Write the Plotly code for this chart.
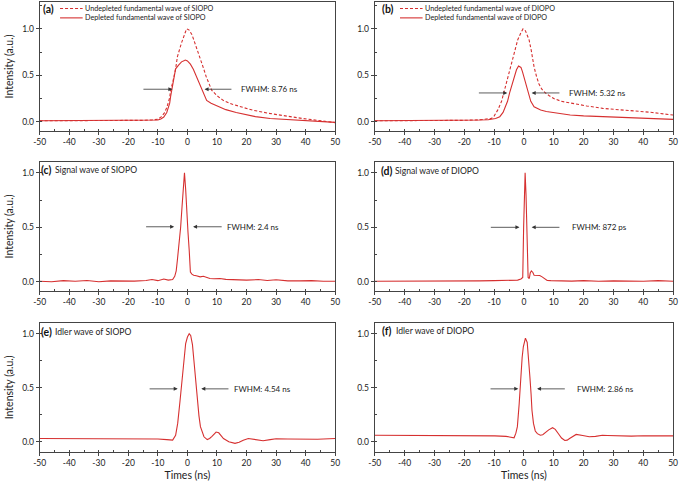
import plotly.graph_objects as go
from plotly.subplots import make_subplots

# ---------------- data ----------------
a_und_t = [-50,-40,-30,-20,-15,-12,-10,-9,-7.9,-7,-6,-5.7,-5,-4,-3.4,-2,-1,-0.3,0.5,1.5,2.5,3.5,4.3,5.5,6.3,8.2,10,12.1,15,18.7,22,27.6,33,38.7,44,50]
a_und_y = [0.01,0.01,0.01,0.012,0.015,0.02,0.025,0.05,0.09,0.15,0.26,0.34,0.42,0.57,0.7,0.85,0.95,1.0,0.99,0.94,0.85,0.76,0.70,0.57,0.49,0.34,0.28,0.23,0.19,0.155,0.125,0.09,0.062,0.036,0.015,-0.01]

a_dep_t = [-50,-40,-30,-20,-15,-12,-10,-9,-8,-7,-6,-5.7,-5,-4.5,-4,-3,-2,-1,-0.7,0,1,2,3,4,5,6.5,8,10,13,16.5,20,23,28,33,38,44,50]
a_dep_y = [0.01,0.01,0.01,0.012,0.012,0.014,0.018,0.03,0.05,0.1,0.2,0.27,0.4,0.52,0.57,0.61,0.645,0.66,0.665,0.655,0.62,0.565,0.49,0.4,0.33,0.23,0.2,0.17,0.13,0.1,0.075,0.055,0.035,0.025,0.015,0.007,-0.007]

b_und_t = [-50,-40,-30,-20,-15,-12,-10.9,-10,-8.7,-7.5,-6.5,-5.5,-4.3,-3,-2.1,-1,-0.3,0.5,1.75,2.5,3.4,4.2,5,6,7.2,8.5,10,12.5,15.5,21,26.4,32,37.4,43,50]
b_und_y = [0.01,0.01,0.012,0.015,0.02,0.028,0.035,0.06,0.13,0.22,0.34,0.47,0.63,0.78,0.88,0.96,1.0,0.98,0.88,0.76,0.59,0.49,0.41,0.35,0.31,0.28,0.25,0.22,0.2,0.17,0.144,0.13,0.12,0.1,0.072]

b_dep_t = [-50,-40,-30,-20,-15,-12,-10.9,-9.5,-8.1,-7,-6.5,-5.5,-4.8,-4,-3.2,-2.5,-1.8,-1,-0.5,0.1,0.6,1.2,1.8,2.3,3.4,4.5,5.6,7.5,10,12.5,15.5,20,26.4,32,37.4,43,50]
b_dep_y = [0.01,0.01,0.012,0.015,0.018,0.022,0.025,0.035,0.054,0.1,0.14,0.22,0.31,0.4,0.49,0.56,0.6,0.585,0.54,0.47,0.41,0.34,0.27,0.22,0.16,0.14,0.126,0.11,0.097,0.085,0.072,0.063,0.054,0.045,0.036,0.03,0.025]

c_t = [-50,-46,-42,-38,-34,-30,-26,-22,-18,-14,-12,-10,-8,-6.5,-5,-4.3,-3.8,-3.4,-2.8,-2.3,-1.8,-1.4,-1,-0.6,-0.3,0.2,0.6,1.0,1.5,2.1,3,4.3,5.4,6.5,7.6,9,11,13,16.5,20,24,27,30,34,38,42,46,50]
c_y = [0.005,0.0,0.01,0.005,0.012,0.0,0.008,0.005,0.006,0.012,0.02,0.01,0.025,0.015,0.02,0.05,0.1,0.2,0.35,0.5,0.7,0.87,1.0,0.85,0.66,0.45,0.29,0.09,0.07,0.06,0.055,0.045,0.05,0.04,0.03,0.028,0.03,0.022,0.02,0.015,0.02,0.012,0.018,0.008,0.008,0.01,0.004,0.005]

d_t = [-50,-45,-40,-35,-30,-25,-20,-15,-10,-6,-4,-2.1,-1,-0.4,-0.1,0.2,0.4,0.7,1.0,1.4,1.8,2.1,2.5,3.0,3.4,4.5,5.3,6.1,7.0,7.8,9,12,16,20,25,30,35,40,45,50]
d_y = [0.005,0.005,0.003,0.006,0.004,0.006,0.005,0.008,0.01,0.012,0.015,0.015,0.025,0.04,0.5,0.9,1.0,0.8,0.5,0.04,0.03,0.08,0.1,0.085,0.06,0.062,0.058,0.045,0.03,0.012,0.01,0.008,0.006,0.01,0.005,0.008,0.006,0.004,0.01,0.005]

e_t = [-50,-45,-40,-35,-30,-25,-20,-15,-10,-7,-5,-4,-3.3,-2.5,-1.7,-1.1,-0.6,0,0.6,1.1,1.7,2.2,2.8,3.3,3.9,4.4,5,5.6,6.7,7.5,8.3,9.7,10.6,11.4,12.2,14,16.1,17.5,18.9,20.6,22,23.3,25.6,28,30,34,38.9,44,50]
e_y = [0.03,0.03,0.028,0.03,0.027,0.028,0.03,0.028,0.025,0.02,0.015,0.06,0.17,0.38,0.6,0.8,0.91,0.97,1.0,0.985,0.9,0.75,0.56,0.38,0.24,0.14,0.08,0.046,0.02,0.03,0.05,0.09,0.083,0.06,0.03,0.0,-0.015,-0.005,0.015,0.03,0.025,0.015,0.01,0.02,0.028,0.026,0.022,0.024,0.03]

f_t = [-50,-45,-40,-35,-30,-25,-20,-15,-9.8,-6,-3.3,-2.7,-2.2,-1.6,-1.1,-0.6,-0.2,0.5,1.1,1.5,2,2.4,2.7,3.2,3.8,4.5,5.5,6.3,7.1,8.3,9.6,10.5,11.5,12.6,13.7,14.5,15.3,16.5,17.5,19.7,21.9,24,26.3,28,31.7,36,40,45,50]
f_y = [0.06,0.06,0.058,0.06,0.058,0.056,0.058,0.058,0.055,0.05,0.037,0.08,0.14,0.35,0.6,0.78,0.88,0.96,0.92,0.8,0.6,0.44,0.29,0.17,0.1,0.075,0.06,0.065,0.083,0.11,0.13,0.115,0.077,0.035,0.012,0.015,0.03,0.055,0.068,0.058,0.046,0.05,0.06,0.058,0.055,0.052,0.056,0.054,0.055]

x_tickvals = [-50,-40,-30,-20,-10,0,10,20,30,40,50]
x_ticktext = ["-50","-40","-30","-20","-10","0","10","20","30","40","50"]
y_tickvals = [0.0,0.5,1.0]
y_ticktext = ["0.0","0.5","1.0"]

panel_labels = ["(a)","(b)","(c)","(d)","(e)","(f)"]
panel_titles = ["", "", "Signal wave of SIOPO", "Signal wave of DIOPO", "Idler wave of SIOPO", "Idler wave of DIOPO"]
legend_a = ["Undepleted fundamental wave of SIOPO", "Depleted fundamental wave of SIOPO"]
legend_b = ["Undepleted fundamental wave of DIOPO", "Depleted fundamental wave of DIOPO"]
fwhm_text = ["FWHM: 8.76 ns", "FWHM: 5.32 ns", "FWHM: 2.4 ns", "FWHM: 872 ps", "FWHM: 4.54 ns", "FWHM: 2.86 ns"]
# arrows: (left tail, left head, right tail, right head, y)
fwhm_arrows = [(-15.4,-5.1,15.4,5.8,0.35),
               (-15.6,-5.6,12.4,2.6,0.31),
               (-14.5,-4.5,12.1,1.9,0.505),
               (-11.6,-1.5,12.4,2.6,0.5),
               (-13.3,-3.3,14.4,4.7,0.49),
               (-11.7,-1.9,14.2,4.4,0.49)]
fwhm_text_x = [17.6, 14.6, 12.8, 15.5, 15.2, 17.0]

# ---------------- figure ----------------
RED = "#d63030"
AX = "#444444"
FONT = "Lato"

fig = make_subplots(rows=3, cols=2)

col_dom = [[33.3/685, 334/685], [374.3/685, 678/685]]
row_px = [(2, 131), (162, 291), (323, 451.7)]
row_dom = [[1 - b/481, 1 - t/481] for (t, b) in row_px]
yranges = [[-0.1, 1.29], [-0.085, 1.1], [-0.092, 1.1]]

series = [
    [(a_und_t, a_und_y, "dash"), (a_dep_t, a_dep_y, "solid")],
    [(b_und_t, b_und_y, "dash"), (b_dep_t, b_dep_y, "solid")],
    [(c_t, c_y, "solid")],
    [(d_t, d_y, "solid")],
    [(e_t, e_y, "solid")],
    [(f_t, f_y, "solid")],
]

for i in range(6):
    r, c = i // 2 + 1, i % 2 + 1
    for (t, y, dash) in series[i]:
        fig.add_trace(go.Scatter(x=t, y=y, mode="lines",
                                 line=dict(color=RED, width=1.1,
                                           dash="3px,2px" if dash == "dash" else "solid"),
                                 showlegend=False, hoverinfo="skip"), row=r, col=c)

annotations = []
shapes = []
for i in range(6):
    r, c = i // 2, i % 2
    idx = "" if i == 0 else str(i + 1)
    xa = "xaxis" + idx
    ya = "yaxis" + idx
    fig.layout[xa].update(domain=col_dom[c], range=[-50, 50], tickvals=x_tickvals, ticktext=x_ticktext,
                          showline=True, mirror=True, linecolor=AX, linewidth=1,
                          ticks="outside", ticklen=3, tickcolor=AX, showgrid=False, zeroline=False,
                          ticklabeloverflow="allow",
                          minor=dict(ticks="inside", ticklen=2, dtick=5, tickcolor=AX, showgrid=False),
                          tickfont=dict(size=8.5, color="#222", family=FONT))
    fig.layout[ya].update(domain=row_dom[r], range=yranges[r], tickvals=y_tickvals, ticktext=y_ticktext,
                          showline=True, mirror=True, linecolor=AX, linewidth=1,
                          ticks="outside", ticklen=3, tickcolor=AX, showgrid=False, zeroline=False,
                          ticklabeloverflow="allow",
                          minor=dict(ticks="inside", ticklen=2, dtick=0.25, tickcolor=AX, showgrid=False),
                          tickfont=dict(size=8.5, color="#222", family=FONT))
    if c == 0:
        fig.layout[ya].update(title=dict(text="Intensity (a.u.)", standoff=6,
                                         font=dict(size=10.5, color="#222", family=FONT)))
    if r == 2:
        fig.layout[xa].update(title=dict(text="Times (ns)", standoff=4,
                                         font=dict(size=10.5, color="#222", family=FONT)))
    xref = "x" + idx
    yref = "y" + idx
    lt, lh, rt, rh, yy = fwhm_arrows[i]
    for (tail, head) in [(lt, lh), (rt, rh)]:
        annotations.append(dict(x=head, y=yy, ax=tail, ay=yy, xref=xref, yref=yref,
                                axref=xref, ayref=yref, text="", showarrow=True,
                                arrowhead=2, arrowsize=1, arrowwidth=0.8, arrowcolor="#333"))
    annotations.append(dict(x=fwhm_text_x[i], y=yy, xref=xref, yref=yref, text=fwhm_text[i],
                            showarrow=False, xanchor="left", yanchor="middle",
                            font=dict(size=8, color="#222", family=FONT)))

# panel labels (paper coords from pixels)
def px(xp):
    return xp / 685
def py(yp):
    return 1 - yp / 481

label_pos = [(35, 9), (380, 9), (33, 170), (379, 171), (33, 331.5), (380, 331)]
for i in range(6):
    lx, ly = label_pos[i]
    annotations.append(dict(x=px(lx), y=py(ly), xref="paper", yref="paper",
                            text="<b>" + panel_labels[i] + "</b>", showarrow=False,
                            xanchor="left", yanchor="middle",
                            font=dict(size=10.5, color="#111", family=FONT)))
    if panel_titles[i]:
        annotations.append(dict(x=px(lx + 14), y=py(ly), xref="paper", yref="paper",
                                text=panel_titles[i], showarrow=False,
                                xanchor="left", yanchor="middle",
                                font=dict(size=8.6, color="#222", family=FONT)))

# legends for (a) and (b): one two-line text block + line samples
LEG_FS = 7.2
for (x0, texts) in [(54, legend_a), (400, legend_b)]:
    yc = 13.2
    for k, dash in enumerate(["3px,2px", "solid"]):
        yrow = yc + (k - 0.5) * LEG_FS * 1.3
        shapes.append(dict(type="line", xref="paper", yref="paper",
                           x0=px(x0), x1=px(x0 + 23), y0=py(yrow), y1=py(yrow),
                           line=dict(color=RED, width=1.1, dash=dash)))
    annotations.append(dict(x=px(x0 + 24), y=py(yc), xref="paper", yref="paper",
                            text="<br>".join(texts), showarrow=False, align="left",
                            xanchor="left", yanchor="middle", borderpad=0,
                            font=dict(size=LEG_FS, color="#222", family=FONT)))

fig.update_layout(width=685, height=481, margin=dict(l=0, r=0, t=0, b=0),
                  paper_bgcolor="white", plot_bgcolor="white",
                  showlegend=False, annotations=annotations, shapes=shapes,
                  font=dict(family=FONT))

fig.write_html("out.html", config={"displayModeBar": False},
               post_script="document.body.style.margin='0';document.body.style.overflow='hidden';")
